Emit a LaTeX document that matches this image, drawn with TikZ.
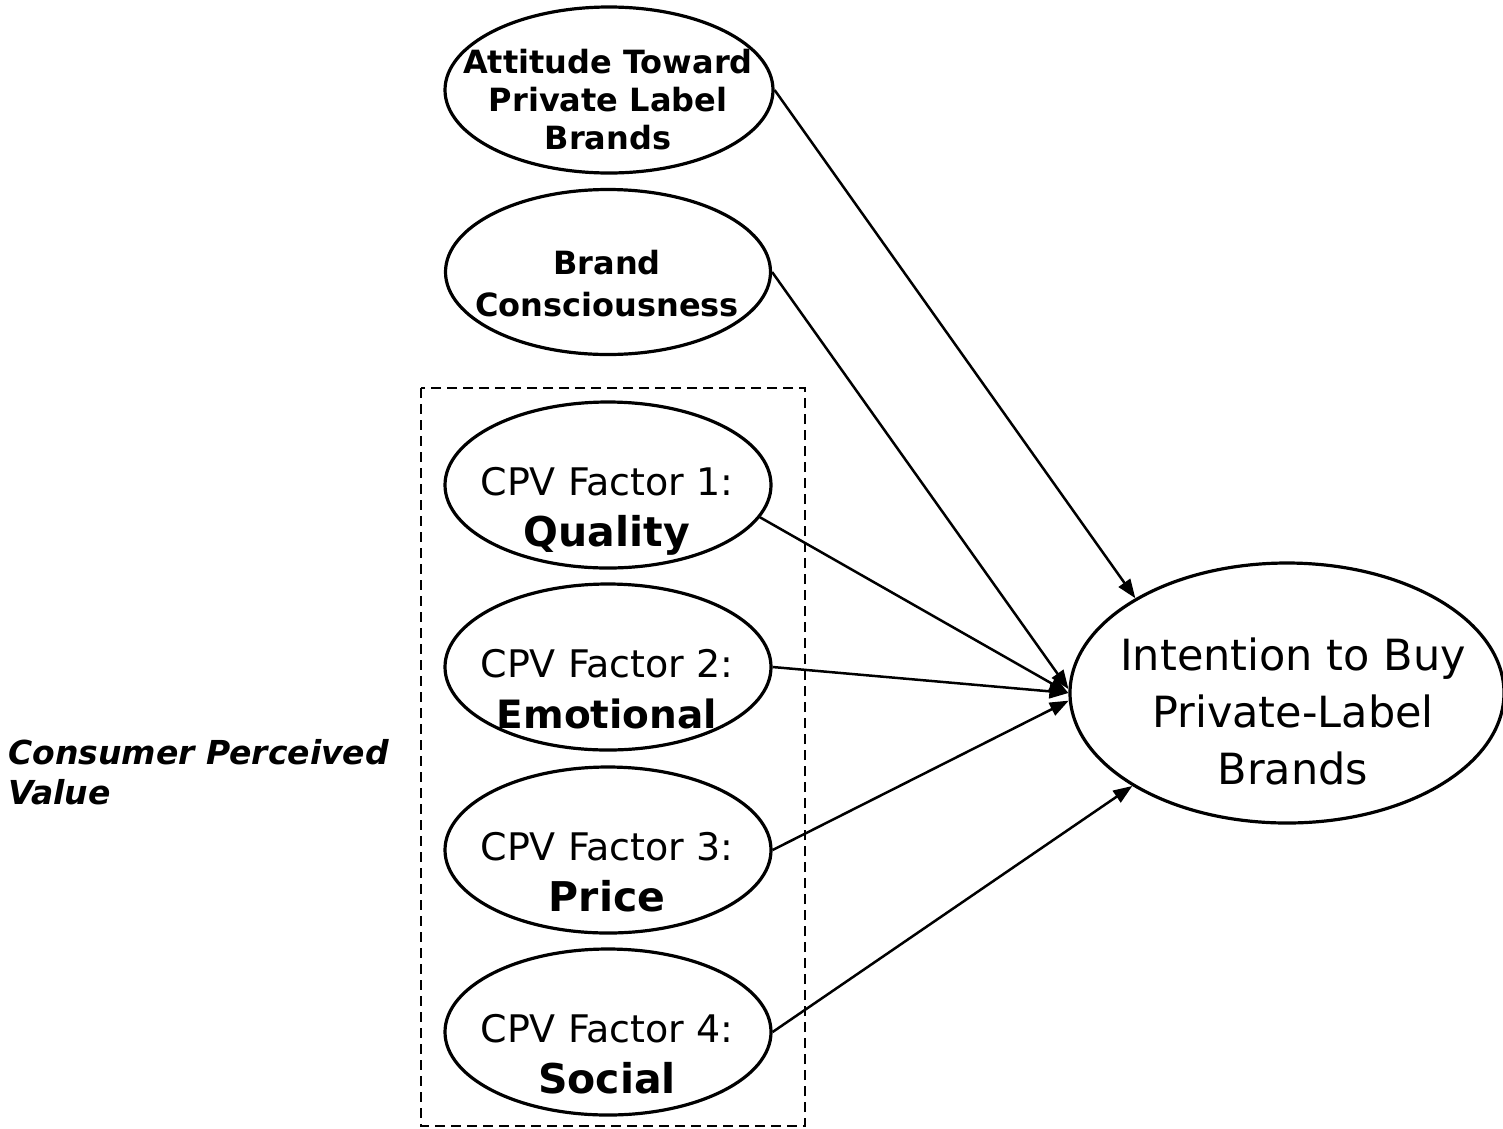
\documentclass[tikz,border=0pt]{standalone}
\usepackage{fontspec}
\setmainfont{DejaVu Sans}
\usetikzlibrary{shapes.geometric,arrows.meta}
\begin{document}
\begin{tikzpicture}[x=1pt,y=-1pt,
  oval/.style={draw,ellipse,line width=3.2pt,minimum width=326pt,minimum height=166pt,inner sep=0pt},
  cpvtext/.style={align=center,inner sep=0pt,font=\fontsize{38}{51}\selectfont},
  boldtext/.style={align=center,inner sep=0pt,font=\fontsize{32}{38}\selectfont\bfseries},
  conn/.style={line width=2.5pt,-{Triangle[length=19pt,width=14pt]}},
  group/.style={draw,line width=2.6pt,dash pattern=on 10pt off 6pt}
]
\useasboundingbox (0,0) rectangle (1503,1128);

% group box
\draw[group] (421,388) rectangle (805,1126);

% ellipses
\node[oval,minimum width=328pt] (att) at (609,90) {};
\node[oval,minimum width=325pt,minimum height=165pt] (brand) at (608,272) {};
\node[oval] (q1) at (608,485) {};
\node[oval] (q2) at (608,667) {};
\node[oval] (q3) at (608,850) {};
\node[oval] (q4) at (608,1032) {};
\node[oval,minimum width=434pt,minimum height=260pt] (int) at (1287,693) {};

% texts
\node[boldtext] (att-t) at (608,100) {Attitude Toward\\Private Label\\Brands};
\node[boldtext,font=\fontsize{32}{42}\selectfont\bfseries] (brand-t) at (607,284) {Brand\\Consciousness};
\node[cpvtext] (q1-t) at (607,511.5) {CPV Factor 1:\\\fontsize{41}{51}\selectfont\bfseries Quality\vphantom{Qy}};
\node[cpvtext] (q2-t) at (607,693.5) {CPV Factor 2:\\\fontsize{39}{51}\selectfont\bfseries Emotional\vphantom{Qy}};
\node[cpvtext] (q3-t) at (607,876.5) {CPV Factor 3:\\\fontsize{41}{51}\selectfont\bfseries Price\vphantom{Qy}};
\node[cpvtext] (q4-t) at (607,1058.5) {CPV Factor 4:\\\fontsize{41}{51}\selectfont\bfseries Social\vphantom{Qy}};
\node[align=center,inner sep=0pt,font=\fontsize{43}{57}\selectfont] (int-t) at (1293,711) {Intention to Buy\\Private-Label\\Brands};
\node[align=left,inner sep=0pt,anchor=west,font=\fontsize{33}{40}\selectfont\bfseries\itshape] (cpv) at (8,772.5) {Consumer Perceived\\Value};

% connectors
\draw[conn] (att.east) -- (int.148.5);
\draw[conn] (brand.east) -- (int.179);
\draw[conn] (q1.-12.8) -- (int.180);
\draw[conn] (q2.east) -- (int.180);
\draw[conn] (q3.east) -- (int.182);
\draw[conn] (q4.east) -- (int.211.7);
\end{tikzpicture}
\end{document}
